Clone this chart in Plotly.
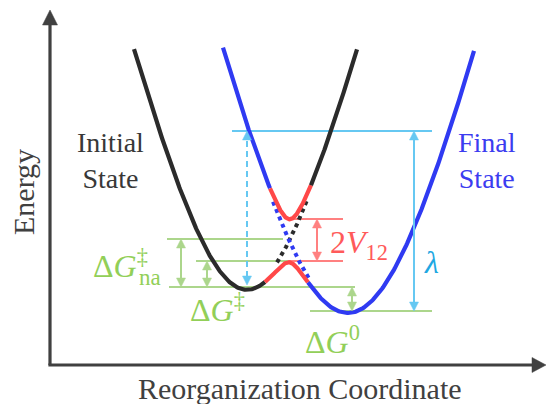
import numpy as np
import plotly.graph_objects as go

W, H = 546, 404

# ---- diagram values (reaction coordinate in plot units, energy upward) ----
surface_names = ["Initial", "Final"]
min_position = [246, 348.5]        # coordinate of each diabatic minimum
min_energy = [117, 93]             # energy of each minimum
surface_scale = [300, 432]         # steepness of each well
surface_width = [75, 100]          # curvature width of each well
coupling_V = 21.5                  # electronic coupling V12

lower_extent = [134, 474]          # lower adiabatic curve span
upper_extent = [223, 357]          # upper adiabatic curve span
red_lower = [265, 308]             # avoided-crossing part (lower)
red_upper = [270, 311]             # avoided-crossing part (upper)
dotted_black = [277, 308]
dotted_blue = [273, 309]

# energy levels
level_min_initial = 117
level_min_final = 93
level_cross = 165
level_adiabatic_top = 143
level_upper_bottom = 185
level_vertical = 273

# colours
C_BLACK = "#2b2b2b"
C_BLUE = "#2f3af2"
C_RED = "#ff4848"
C_RED_L = "#ff8080"
C_GREEN = "#acd68c"
C_GREEN_T = "#92cf58"
C_LBLUE = "#66c8f2"
C_LBLUE_T = "#1fa8e2"
C_AXIS = "#404040"
SERIF = "Liberation Serif, Times New Roman, serif"


def surface(i, x):
    return min_energy[i] + surface_scale[i] * (np.sqrt(1 + ((x - min_position[i]) / surface_width[i]) ** 2) - 1)


def adiabatic(x, sign):
    e1, e2 = surface(0, x), surface(1, x)
    return (e1 + e2) / 2 + sign * np.sqrt(((e1 - e2) / 2) ** 2 + coupling_V ** 2)


fig = go.Figure()


def add_curve(x0, x1, fn, color, dash="solid", width=4.2):
    x = np.linspace(x0, x1, 200)
    fig.add_trace(go.Scatter(x=x, y=fn(x), mode="lines",
                             line=dict(color=color, width=width, dash=dash),
                             hoverinfo="skip", showlegend=False))


# dotted diabatic curves near the crossing
add_curve(dotted_black[0], dotted_black[1], lambda x: surface(0, x), C_BLACK, "dot", 4)
add_curve(dotted_blue[0], dotted_blue[1], lambda x: surface(1, x), C_BLUE, "dot", 4)

# lower adiabatic curve
low = lambda x: adiabatic(x, -1)
up = lambda x: adiabatic(x, +1)
add_curve(lower_extent[0], red_lower[0], low, C_BLACK)
add_curve(red_lower[0], red_lower[1], low, C_RED)
add_curve(red_lower[1], lower_extent[1], low, C_BLUE)
# upper adiabatic curve
add_curve(upper_extent[0], red_upper[0], up, C_BLUE)
add_curve(red_upper[0], red_upper[1], up, C_RED)
add_curve(red_upper[1], upper_extent[1], up, C_BLACK)

shapes = []


def hline(y, x0, x1, color, width=2):
    shapes.append(dict(type="line", x0=x0, x1=x1, y0=y, y1=y, layer="below",
                       line=dict(color=color, width=width)))


def head_path(xt, yt, dx, dy, length, half):
    bx, by = xt - dx * length, yt - dy * length
    px, py = -dy * half, dx * half
    return f"M{xt},{yt} L{bx + px},{by + py} L{bx - px},{by - py} Z"


def varrow(x, y_a, y_b, color, width=2, dash="solid", length=9, half=4.5):
    lo, hi = min(y_a, y_b), max(y_a, y_b)
    shapes.append(dict(type="line", x0=x, x1=x, y0=lo + length - 1, y1=hi - length + 1,
                       line=dict(color=color, width=width, dash=dash)))
    for yt, d in ((hi, 1), (lo, -1)):
        shapes.append(dict(type="path", path=head_path(x, yt, 0, d, length, half),
                           fillcolor=color, line=dict(color=color, width=0.5)))


# level lines
hline(level_vertical, 232, 432, C_LBLUE)
hline(level_cross, 167, 283, C_GREEN)
hline(level_adiabatic_top, 196, 288, C_GREEN)
hline(level_min_initial, 169, 355, C_GREEN)
hline(level_min_final, 310, 432, C_GREEN)
hline(level_upper_bottom, 294, 343, C_RED_L)
hline(level_adiabatic_top, 288, 343, C_RED_L)

# arrows
varrow(181, level_cross, level_min_initial, C_GREEN)
varrow(207, level_adiabatic_top, level_min_initial, C_GREEN)
varrow(352, level_min_initial, level_min_final, C_GREEN)
varrow(317, level_upper_bottom, level_adiabatic_top, C_RED_L)
varrow(414, level_vertical, level_min_final, C_LBLUE)
varrow(min_position[0] + 1, level_vertical, level_min_initial + 2, C_LBLUE, dash="6px,4px")

# axes with arrowheads
shapes.append(dict(type="line", x0=50, x1=50, y0=39, y1=382, line=dict(color=C_AXIS, width=3.2)))
shapes.append(dict(type="line", x0=48.4, x1=534, y0=39, y1=39, line=dict(color=C_AXIS, width=3.2)))
shapes.append(dict(type="path", path=head_path(50, 394, 0, 1, 15, 7.5), fillcolor=C_AXIS,
                   line=dict(color=C_AXIS, width=0.5)))
shapes.append(dict(type="path", path=head_path(546, 39, 1, 0, 14, 7.5), fillcolor=C_AXIS,
                   line=dict(color=C_AXIS, width=0.5)))

annotations = []


def label(text, x, y, size, color, xanchor="center", yanchor="middle", angle=0, font=SERIF):
    annotations.append(dict(text=text, x=x, y=y, xref="x", yref="y", showarrow=False,
                            xanchor=xanchor, yanchor=yanchor, textangle=angle,
                            font=dict(family=font, size=size, color=color)))


label("Initial<br>State", 110, 244, 28, "#383838")
label("Final<br>State", 487, 244, 28, "#3c3cf0")
label("Energy", 23, 212, 30, "#404040", angle=-90)
label("Reorganization Coordinate", 300, 16, 30, "#404040")

label("Δ<i>G</i><sup>‡</sup>", 150, 140, 32, C_GREEN_T, xanchor="right")
label("na", 150, 127, 23, C_GREEN_T)
label("Δ<i>G</i><sup>‡</sup>", 188, 96, 32, C_GREEN_T, xanchor="left")
label("Δ<i>G</i><sup>0</sup>", 303, 64, 32, C_GREEN_T, xanchor="left")
label("2<i>V</i><sub>12</sub>", 328, 160, 32, "#ff5a5a", xanchor="left")
label("<i>λ</i>", 431, 142, 32, C_LBLUE_T)

fig.update_layout(
    width=W, height=H, margin=dict(l=0, r=0, t=0, b=0),
    paper_bgcolor="white", plot_bgcolor="white",
    xaxis=dict(range=[0, W], visible=False, fixedrange=True),
    yaxis=dict(range=[0, H], visible=False, fixedrange=True),
    shapes=shapes, annotations=annotations, showlegend=False,
)

fig.write_html("out.html")
